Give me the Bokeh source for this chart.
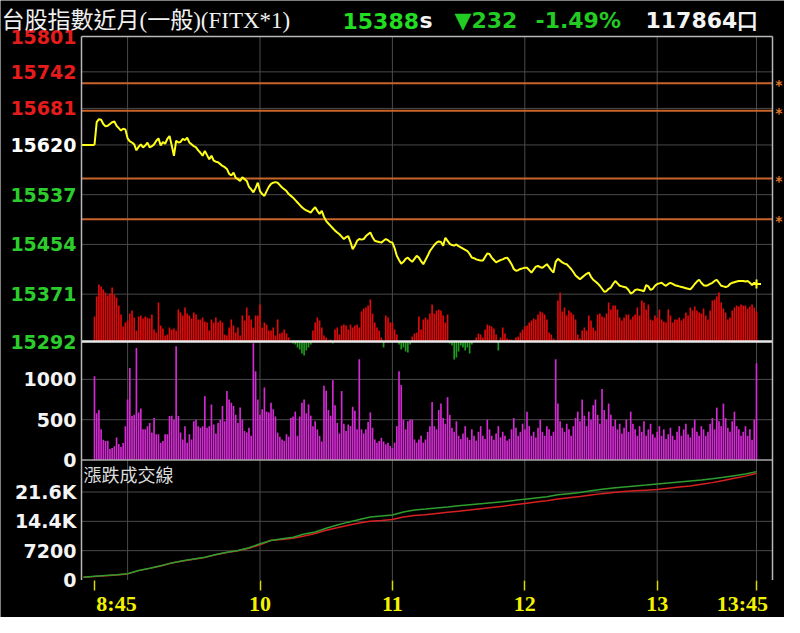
from bokeh.plotting import figure
from bokeh.models import Range1d, LinearAxis, FixedTicker, Label
from bokeh.embed import file_html
from bokeh.resources import INLINE
from bokeh.core.properties import value

# ---------------------------------------------------------------- data
REF_PRICE = 15620
LAST_PRICE = 15388

# minutes after 8:45, one value per minute (t = 0 .. 300)
PRICE_MIN = list(range(0, 301))
PRICE = [
    15620, 15658, 15663, 15662, 15655, 15651, 15652, 15655, 15658, 15659, 15652, 15648, 15644, 15647, 15646,
    15631, 15626, 15624, 15621, 15611, 15617, 15621, 15616, 15619, 15624, 15616, 15618, 15621, 15627, 15631,
    15619, 15625, 15622, 15630, 15635, 15619, 15602, 15627, 15624, 15625, 15630, 15628, 15632, 15624, 15621,
    15618, 15616, 15611, 15607, 15602, 15610, 15603, 15596, 15602, 15594, 15592, 15591, 15588, 15585, 15583,
    15580, 15572, 15569, 15574, 15565, 15563, 15560, 15566, 15563, 15560, 15550, 15546, 15541, 15548, 15557,
    15543, 15538, 15535, 15543, 15550, 15555, 15557, 15558, 15557, 15553, 15549, 15546, 15543, 15538, 15535,
    15532, 15528, 15524, 15520, 15516, 15513, 15511, 15509, 15507, 15512, 15516, 15510, 15505, 15510, 15500,
    15493, 15489, 15485, 15481, 15477, 15474, 15471, 15467, 15463, 15466, 15468, 15458, 15446, 15452, 15460,
    15463, 15462, 15463, 15468, 15471, 15474, 15466, 15460, 15459, 15458, 15457, 15460, 15463, 15461, 15458,
    15457, 15448, 15435, 15428, 15422, 15425, 15430, 15432, 15428, 15425, 15430, 15435, 15432, 15426, 15421,
    15428, 15435, 15443, 15448, 15453, 15457, 15459, 15458, 15452, 15465, 15460, 15455, 15453, 15452, 15454,
    15451, 15449, 15447, 15445, 15443, 15438, 15432, 15431, 15429, 15428, 15427, 15427, 15433, 15439, 15438,
    15432, 15428, 15424, 15426, 15428, 15429, 15431, 15432, 15427, 15421, 15413, 15410, 15411, 15413, 15414,
    15415, 15415, 15411, 15407, 15412, 15417, 15418, 15416, 15415, 15418, 15421, 15416, 15411, 15407, 15425,
    15430, 15427, 15424, 15422, 15421, 15417, 15413, 15408, 15402, 15399, 15396, 15399, 15402, 15405, 15407,
    15400, 15395, 15392, 15389, 15385, 15380, 15375, 15376, 15380, 15382, 15388, 15393, 15389, 15385, 15384,
    15383, 15382, 15378, 15372, 15374, 15378, 15379, 15378, 15377, 15376, 15386, 15384, 15378, 15380, 15385,
    15388, 15389, 15390, 15387, 15385, 15388, 15390, 15388, 15386, 15385, 15384, 15383, 15382, 15381, 15380,
    15379, 15383, 15388, 15392, 15395, 15390, 15386, 15385, 15386, 15388, 15390, 15393, 15395, 15390, 15385,
    15384, 15383, 15384, 15388, 15390, 15391, 15392, 15393, 15393, 15393, 15392, 15393, 15390, 15386, 15390,
    15388,
]

BAR_MIN = list(range(0, 301))
# buy / sell difference bars (red up, green down)
DIFF = [
    25, 45, 57, 55, 52, 49, 46, 48, 54, 47, 44, 36, 27, 15, 19,
    21, 28, 31, 24, 11, 25, 26, 23, 25, 24, 23, 27, 12, 9, 39,
    16, 13, 6, 7, 14, 12, 13, 11, 32, 29, 26, 34, 28, 26, 23,
    29, 27, 22, 22, 24, 20, 19, 11, 22, 19, 24, 19, 21, 19, 7,
    6, 14, 22, 16, 9, 14, 6, 26, 21, 34, 26, 22, 14, 26, 26,
    37, 14, 19, 17, 11, 11, 14, 6, 22, 8, 9, 12, 8, 4, 0,
    -2, -3, -6, -8, -12, -14, -9, -6, -3, 11, 19, 24, 21, 14, 6,
    4, 1, 2, -2, 12, 14, 7, 16, 17, 16, 12, 17, 14, 16, 17,
    14, 30, 33, 34, 36, 42, 28, 19, 14, 11, 4, -6, 26, 24, 19,
    19, 12, 7, -3, -8, -6, -10, -11, -3, 5, 8, 9, 25, 12, 22,
    24, 22, 28, 37, 28, 31, 32, 31, 26, 19, 27, -2, -4, -18, -16,
    -10, -4, -6, -9, -6, -12, -3, 1, 4, 8, 7, 4, 12, 17, 16,
    15, 13, 7, -9, 4, 14, 8, 3, 2, 2, 1, 4, 5, 9, 12,
    15, 16, 19, 21, 23, 22, 27, 30, 29, 27, 22, 9, 7, 3, 1,
    41, 49, 30, 34, 26, 31, 29, 27, 22, 7, 3, 11, 14, 11, 26,
    21, 14, 11, 27, 28, 25, 24, 28, 39, 32, 36, 36, 32, 24, 21,
    24, 27, 27, 22, 25, 27, 34, 26, 41, 39, 32, 37, 22, 21, 26,
    24, 32, 22, 20, 19, 32, 26, 19, 22, 22, 24, 21, 23, 29, 26,
    34, 31, 35, 31, 29, 28, 33, 26, 22, 31, 41, 42, 45, 49, 39,
    33, 29, 22, 24, 31, 34, 36, 35, 37, 36, 36, 33, 35, 37, 34,
    30,
]

# per-minute volume (lots)
VOLUME = [
    1040, 580, 620, 380, 250, 235, 240, 135, 150, 170, 280, 200, 160, 210, 420,
    750, 1140, 545, 560, 1390, 590, 640, 380, 380, 420, 460, 340, 520, 320, 320,
    215, 235, 320, 320, 545, 550, 500, 1410, 545, 340, 255, 420, 215, 320, 255,
    480, 500, 420, 400, 420, 790, 400, 420, 690, 440, 330, 460, 500, 670, 480,
    855, 750, 710, 670, 560, 460, 650, 500, 360, 340, 400, 300, 1450, 1100, 750,
    560, 630, 900, 600, 590, 710, 630, 540, 340, 290, 255, 235, 320, 290, 520,
    540, 600, 300, 540, 710, 750, 580, 690, 550, 420, 480, 380, 300, 230, 920,
    860, 620, 550, 990, 680, 460, 330, 855, 450, 360, 440, 420, 660, 610, 380,
    1250, 380, 330, 380, 470, 590, 400, 255, 215, 235, 275, 230, 195, 215, 175,
    150, 215, 420, 1100, 930, 500, 380, 480, 500, 500, 255, 215, 255, 300, 215,
    255, 350, 420, 720, 420, 380, 620, 700, 520, 450, 780, 560, 400, 350, 480,
    300, 260, 330, 420, 280, 250, 380, 300, 240, 350, 420, 300, 260, 500, 380,
    300, 250, 330, 420, 280, 350, 300, 240, 260, 380, 520, 400, 300, 350, 450,
    380, 600, 420, 300, 350, 280, 400, 500, 350, 300, 420, 380, 300, 350, 1250,
    700, 480, 400, 350, 450, 380, 300, 420, 520, 600, 480, 750, 550, 420, 600,
    500, 680, 750, 560, 450, 880, 620, 500, 700, 560, 420, 500, 380, 450, 330,
    400, 500, 350, 600, 450, 380, 300, 420, 350, 480, 300, 380, 450, 320, 280,
    350, 420, 300, 380, 260, 320, 400, 300, 250, 350, 420, 300, 380, 450, 320,
    280, 400, 500, 350, 300, 420, 380, 300, 350, 450, 520, 380, 650, 480, 420,
    700, 520, 400, 350, 480, 600, 420, 380, 300, 350, 420, 300, 380, 250, 500,
    1200,
]

# cumulative up / down volume lines, every 5 minutes
CUM_MIN = [-5] + list(range(0, 301, 5))
CUM_UP = [
    700, 900, 1100, 1300, 1550, 2350, 2900, 3500, 4200, 4700, 5150, 5600, 6250, 6800, 7250,
    7900, 8900, 9700, 10100, 10500, 11300, 11800, 12700, 13500, 14200, 14850, 15450, 15700, 15950, 16700,
    17200, 17400, 17700, 17900, 18200, 18450, 18700, 18950, 19200, 19500, 19850, 20150, 20450, 20900, 21200,
    21500, 21900, 22300, 22600, 22850, 23100, 23300, 23550, 23800, 24050, 24300, 24550, 24850, 25200, 25600,
    26000, 26600,
]
CUM_DOWN = [
    700, 850, 1050, 1250, 1500, 2300, 2850, 3450, 4150, 4650, 5100, 5550, 6200, 6750, 7200,
    7800, 8650, 9750, 9950, 10250, 10800, 11400, 12200, 12800, 13450, 14000, 14400, 14600, 14850, 15450,
    15850, 16000, 16300, 16600, 16900, 17200, 17500, 17800, 18100, 18450, 18800, 19150, 19450, 19900, 20200,
    20500, 20850, 21200, 21450, 21700, 21900, 22050, 22200, 22500, 22800, 23100, 23500, 23900, 24400, 24950,
    25500, 26200,
]

ORANGE_LEVELS = [15723, 15677, 15564, 15496]

PRICE_TICKS_UP = [15681, 15742, 15801]
PRICE_TICKS_REF = [15620]
PRICE_TICKS_DOWN = [15292, 15371, 15454, 15537]
VOL_TICKS = [0, 500, 1000]
CUM_TICKS = [0, 7200, 14400, 21600]
CUM_TICK_LABELS = ["0", "7200", "14.4K", "21.6K"]
TIME_TICKS = [0, 75, 135, 195, 255, 300]
TIME_LABELS = ["8:45", "10", "11", "12", "13", "13:45"]
GRID_TIMES = [15, 75, 135, 195, 255, 300]

TITLE = "台股指數近月(一般)(FITX*1)"
QUOTE_PRICE = "15388"
QUOTE_FLAG = "s"
QUOTE_CHANGE = "▼232"
QUOTE_PCT = "-1.49%"
QUOTE_VOLUME = "117864口"
PANEL_LABEL = "漲跌成交線"

# ---------------------------------------------------------------- layout
W, H = 784, 617
PX_LEFT, PX_RIGHT = 81, 772          # chart frame, pixels inside the figure
PX_T0, PX_T300 = 94, 756             # 8:45 and 13:45
PX_TOP, PX_SEP1, PX_SEP2, PX_BOTTOM = 36, 341, 459.5, 579.5
PX_STAR = 778.5


def lin(va, pa, vb, pb):
    k = (vb - va) / (pb - pa)
    return lambda px: va + (px - pa) * k


fx = lin(0, PX_T0, 300, PX_T300)
fp = lin(15801, PX_TOP, 15292, PX_SEP1)
fd = lin(0, PX_SEP1, 100, PX_SEP1 - 100)
fv = lin(0, PX_SEP2, 1000, PX_SEP2 - 80.6)
fc = lin(0, PX_BOTTOM, 21600, PX_BOTTOM - 88)

XL, XR = fx(PX_LEFT), fx(PX_RIGHT)
P_TOP, P_BOTTOM_ALL = fp(PX_TOP), fp(PX_BOTTOM)
C_TOP = fc(PX_SEP2)

p = figure(width=W, height=H, output_backend="svg", toolbar_location=None,
           x_range=Range1d(fx(0), fx(W)), y_range=Range1d(fp(H), fp(0)),
           x_axis_location=None, y_axis_location=None,
           background_fill_color="black", border_fill_color="black",
           outline_line_color=None, min_border=0)
p.grid.visible = False
p.extra_y_ranges = {
    "diff": Range1d(fd(H), fd(0)),
    "vol": Range1d(fv(H), fv(0)),
    "cum": Range1d(fc(H), fc(0)),
}

GRID = "#4a4a4a"
BORDER = "#b8b8b8"


def hlines(ys, rng, color, width):
    n = len(ys)
    p.segment(x0=[XL] * n, x1=[XR] * n, y0=ys, y1=ys, y_range_name=rng,
              line_color=color, line_width=width)


# grid
hlines([15742, 15681, 15620, 15537, 15454, 15371], "default", GRID, 1)
hlines([500, 1000], "vol", GRID, 1)
hlines([7200, 14400, 21600], "cum", GRID, 1)
n = len(GRID_TIMES)
p.segment(x0=GRID_TIMES, x1=GRID_TIMES, y0=[P_TOP] * n, y1=[P_BOTTOM_ALL] * n,
          line_color=GRID, line_width=1)

# orange reference levels
hlines(ORANGE_LEVELS, "default", "#c8642a", 2)
p.text(x=[fx(PX_STAR)] * len(ORANGE_LEVELS), y=ORANGE_LEVELS, text=["*"] * len(ORANGE_LEVELS),
       text_color="#e07a2a", text_font=value("DejaVu Sans"), text_font_style="bold",
       text_font_size=value("14px"), text_align="center", text_baseline="middle", y_offset=2)

# difference bars
up_t = [t for t, d in zip(BAR_MIN, DIFF) if d > 0]
up_d = [d for d in DIFF if d > 0]
dn_t = [t for t, d in zip(BAR_MIN, DIFF) if d < 0]
dn_d = [d for d in DIFF if d < 0]
p.vbar(x=up_t, top=up_d, bottom=0, width=0.75, y_range_name="diff",
       fill_color="#e00a0a", line_color=None)
p.vbar(x=dn_t, top=dn_d, bottom=0, width=0.75, y_range_name="diff",
       fill_color="#1f9a1f", line_color=None)

# volume
p.vbar(x=BAR_MIN, top=VOLUME, bottom=0, width=0.75, y_range_name="vol",
       fill_color="#d42ad4", line_color=None)

# price
p.line(x=[XL, PRICE_MIN[0]], y=[REF_PRICE, REF_PRICE], line_color="#ffff1a", line_width=2)
p.line(x=PRICE_MIN, y=PRICE, line_color="#ffff1a", line_width=2)
p.scatter(x=[PRICE_MIN[-1]], y=[LAST_PRICE], marker="cross", size=9,
          line_color="#ffff1a", line_width=2)

# cumulative lines
p.line(x=CUM_MIN, y=CUM_DOWN, y_range_name="cum", line_color="#d82020", line_width=1.5)
p.line(x=CUM_MIN, y=CUM_UP, y_range_name="cum", line_color="#2e9e2e", line_width=1.5)

# separators and frame
hlines([0], "diff", "#e8e8e8", 2.5)
hlines([0], "vol", "#a8a8a8", 1.5)
hlines([P_TOP], "default", BORDER, 1.5)
p.segment(x0=[XL, XR], x1=[XL, XR], y0=[P_TOP] * 2, y1=[P_BOTTOM_ALL] * 2,
          line_color=BORDER, line_width=1.5)

p.text(x=[XL], y=[C_TOP], text=[PANEL_LABEL], y_range_name="cum",
       text_color="#dcdcdc", text_font=value("Noto Sans CJK TC"),
       text_font_size=value("18px"), text_align="left", text_baseline="top",
       x_offset=2, y_offset=1)


# axes
def yaxis(ticks, color, rng, overrides=None):
    ax = LinearAxis(y_range_name=rng, ticker=FixedTicker(ticks=ticks), fixed_location=XL)
    ax.axis_line_color = None
    ax.major_tick_line_color = None
    ax.minor_tick_line_color = None
    ax.major_tick_in = 0
    ax.major_tick_out = 0
    ax.minor_tick_in = 0
    ax.minor_tick_out = 0
    ax.major_label_text_color = color
    ax.major_label_text_font = "DejaVu Sans"
    ax.major_label_text_font_style = "bold"
    ax.major_label_text_font_size = "19px"
    ax.major_label_standoff = 5
    if overrides:
        ax.major_label_overrides = overrides
    p.add_layout(ax, "left")


yaxis(PRICE_TICKS_UP, "#e41c1c", "default")
yaxis(PRICE_TICKS_REF, "#ffffff", "default")
yaxis(PRICE_TICKS_DOWN, "#2ccc2c", "default")
yaxis(VOL_TICKS, "#f4f4f4", "vol")
yaxis(CUM_TICKS, "#f4f4f4", "cum", dict(zip(CUM_TICKS, CUM_TICK_LABELS)))

NB = "\u00a0"
time_over = dict(zip(TIME_TICKS, TIME_LABELS))
time_over[TIME_TICKS[0]] = NB * 8 + TIME_LABELS[0]
time_over[TIME_TICKS[-1]] = TIME_LABELS[-1] + NB * 3
xa = LinearAxis(ticker=FixedTicker(ticks=TIME_TICKS), y_range_name="cum", fixed_location=0,
                major_label_overrides=time_over)
xa.axis_line_color = None
xa.minor_tick_line_color = None
xa.minor_tick_in = 0
xa.minor_tick_out = 0
xa.major_tick_line_color = "#d8d800"
xa.major_tick_line_width = 1.5
xa.major_tick_in = 0
xa.major_tick_out = 10
xa.major_label_standoff = 1
xa.major_label_text_color = "#f2f200"
xa.major_label_text_font = "Liberation Serif"
xa.major_label_text_font_style = "bold"
xa.major_label_text_font_size = "22px"
p.add_layout(xa, "below")


# header
def head(x, base, text, color, font, size, bold=True):
    p.add_layout(Label(x=x, y=H - base, x_units="screen", y_units="screen", text=text,
                       text_color=color, text_font=font, text_font_size=size,
                       text_font_style="bold" if bold else "normal",
                       text_align="left", text_baseline="alphabetic",
                       background_fill_color=None, border_line_color=None))


head(1, 20, TITLE, "#f0f0f0", "Liberation Serif, Noto Sans CJK TC", "23px", bold=False)
head(342, 20, QUOTE_PRICE, "#22dd22", "DejaVu Sans", "22px")
head(419, 20, QUOTE_FLAG, "#f4f4f4", "DejaVu Sans", "22px")
head(454, 20, QUOTE_CHANGE, "#22cc22", "DejaVu Sans", "22px")
head(535, 20, QUOTE_PCT, "#22cc22", "DejaVu Sans", "22px")
head(645, 20, QUOTE_VOLUME, "#f4f4f4", "DejaVu Sans", "22px")

open("out.html", "w").write(file_html(p, INLINE))
